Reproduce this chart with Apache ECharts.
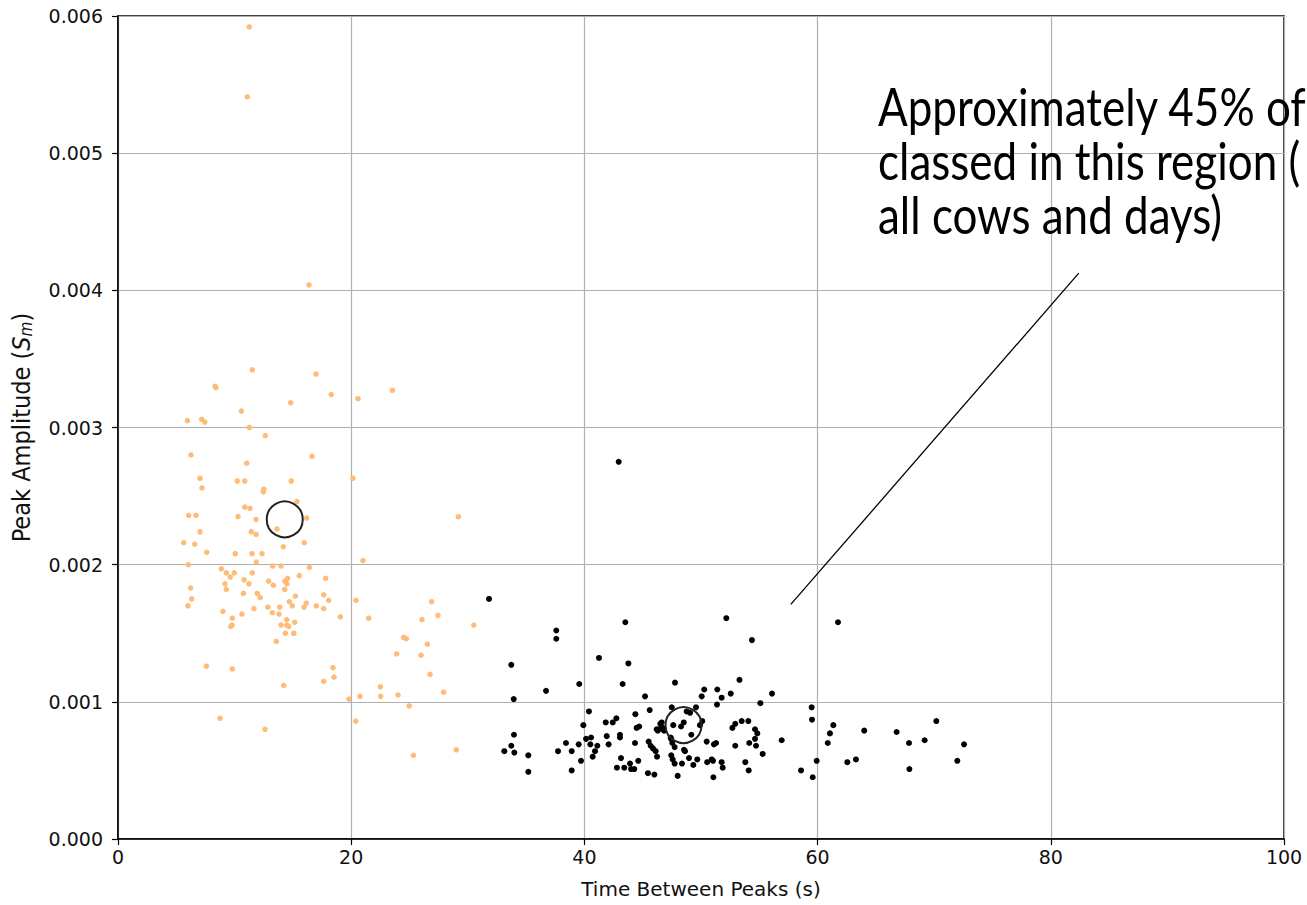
<!DOCTYPE html>
<html>
<head>
<meta charset="utf-8">
<script src="https://cdn.jsdelivr.net/npm/echarts@6/dist/echarts.min.js"></script>
<style>
html,body{margin:0;padding:0;background:#fff;}
#chart{width:1307px;height:905px;}
</style>
</head>
<body>
<div id="chart"></div>
<script>
// Axis tick values
const xTicks = [0, 20, 40, 60, 80, 100];
const yTicks = [0.000, 0.001, 0.002, 0.003, 0.004, 0.005, 0.006];

// Cluster 1 (orange): [time between peaks (s), peak amplitude]
const orangePoints = [
[11.26,0.00592],[11.09,0.00541],[16.38,0.00404],
[11.52,0.00342],[16.98,0.00339],[8.32,0.00330],[8.40,0.00329],[18.29,0.00324],[14.81,0.00318],[20.58,0.00321],[23.53,0.00327],[10.58,0.00312],[5.95,0.00305],[7.18,0.00306],[7.44,0.00304],[11.26,0.00300],[12.63,0.00294],[6.26,0.00280],[16.64,0.00279],[11.04,0.00274],[7.03,0.00263],[7.20,0.00256],[10.23,0.00261],[10.87,0.00261],[14.86,0.00261],[12.50,0.00255],[12.46,0.00253],[20.15,0.00263],[15.35,0.00246],[10.87,0.00242],[11.32,0.00241],[6.06,0.00236],[6.69,0.00236],[10.29,0.00235],[11.84,0.00233],[16.18,0.00234],[13.64,0.00226],[11.43,0.00224],[11.84,0.00222],[7.03,0.00224],[5.63,0.00216],[6.58,0.00215],[14.18,0.00213],[15.98,0.00216],[29.19,0.00235],
[7.61,0.00209],[10.06,0.00208],[11.49,0.00208],[12.35,0.00208],[11.86,0.00202],
[6.03,0.00200],[13.27,0.00199],[13.98,0.00199],[16.41,0.00198],[21.01,0.00203],[8.86,0.00197],[9.29,0.00194],[9.63,0.00191],[9.97,0.00194],[11.52,0.00194],[15.55,0.00192],[17.81,0.00190],[9.18,0.00186],[9.29,0.00182],[10.81,0.00189],[11.23,0.00186],[12.92,0.00188],[13.32,0.00185],[14.32,0.00188],[14.55,0.00190],[14.49,0.00186],[14.30,0.00182],[6.23,0.00183],[6.32,0.00175],[6.00,0.00170],[10.75,0.00179],[11.95,0.00179],[12.20,0.00176],[15.21,0.00177],[17.64,0.00178],[18.07,0.00174],[14.69,0.00173],[14.95,0.00170],[16.15,0.00172],[15.95,0.00169],[17.01,0.00170],[17.64,0.00168],[11.66,0.00168],[12.84,0.00169],[13.23,0.00165],[13.81,0.00164],[13.87,0.00169],[9.00,0.00166],[10.63,0.00164],[9.80,0.00161],[9.78,0.00156],[9.67,0.00155],[14.47,0.00160],[15.15,0.00158],[13.98,0.00156],[14.47,0.00156],[14.64,0.00155],[14.35,0.00150],[15.07,0.00150],[13.58,0.00144],
[19.07,0.00162],[20.41,0.00174],[21.50,0.00161],[26.90,0.00173],[27.44,0.00163],[26.07,0.00160],[30.51,0.00156],[24.50,0.00147],[24.73,0.00146],[26.53,0.00142],[23.90,0.00135],[25.99,0.00134],[26.76,0.00120],[7.58,0.00126],[9.80,0.00124],[18.44,0.00125],[18.52,0.00118],[17.64,0.00115],[14.21,0.00112],[22.50,0.00111],[22.53,0.00104],[20.75,0.00104],[24.01,0.00105],[27.93,0.00107],[19.81,0.00102],[24.98,0.00097],[8.75,0.00088],[12.61,0.00080],[20.39,0.00086],[29.01,0.00065],[25.33,0.00061]
];

// Cluster 2 (black)
const blackPoints = [
[42.94,0.00275],[31.82,0.00175],[37.59,0.00152],[37.59,0.00146],[43.51,0.00158],[52.17,0.00161],[61.75,0.00158],[54.37,0.00145],[41.25,0.00132],[43.77,0.00128],[33.73,0.00127],[39.56,0.00113],[43.28,0.00113],[36.71,0.00108],[47.77,0.00114],[53.30,0.00116],[56.09,0.00106],[33.94,0.00102],[45.20,0.00104],[50.28,0.00109],[50.06,0.00104],[51.40,0.00109],[51.77,0.00103],[52.55,0.00106],[51.37,0.00098],[55.09,0.00099],[59.49,0.00096],[59.52,0.00087],
[47.49,0.00096],[49.57,0.00096],[40.39,0.00093],[45.60,0.00094],[44.37,0.00091],[48.77,0.00093],[49.06,0.00092],[41.83,0.00085],[42.43,0.00085],[42.74,0.00088],[39.91,0.00083],[44.48,0.00081],[44.70,0.00082],[46.51,0.00084],[46.29,0.00079],[46.71,0.00081],[46.63,0.00085],[46.40,0.00080],[46.83,0.00079],[46.20,0.00080],[47.62,0.00083],[48.29,0.00082],[48.52,0.00085],[49.17,0.00076],[50.11,0.00086],[49.91,0.00083],[52.69,0.00081],[52.94,0.00084],[53.49,0.00086],[54.06,0.00086],[54.63,0.00080],[54.83,0.00077],[54.63,0.00073],[54.14,0.00070],[56.92,0.00072],[61.35,0.00083],[61.06,0.00077],[60.87,0.00070],[64.00,0.00079],[66.78,0.00078],[67.84,0.00070],[69.18,0.00072],[70.18,0.00086],[72.56,0.00069],[71.98,0.00057],[67.87,0.00051],[62.55,0.00056],[63.29,0.00058],[59.92,0.00057],[58.58,0.00050],[59.58,0.00045],
[33.96,0.00076],[43.05,0.00076],[43.05,0.00074],[41.91,0.00075],[47.40,0.00074],[47.43,0.00073],[47.54,0.00070],[47.74,0.00067],[48.54,0.00065],[48.63,0.00064],
[44.34,0.00070],[45.51,0.00071],[45.68,0.00068],[45.88,0.00066],[46.11,0.00064],[46.23,0.00060],[38.42,0.00070],[39.51,0.00069],[40.14,0.00073],[40.57,0.00074],[40.51,0.00069],[41.11,0.00068],[40.91,0.00064],[40.71,0.00060],[42.08,0.00069],[33.73,0.00068],[33.13,0.00064],[33.99,0.00063],[35.19,0.00061],[37.74,0.00064],[38.91,0.00064],[39.71,0.00057],[43.14,0.00059],[44.62,0.00057],[43.91,0.00055],[42.79,0.00052],[43.42,0.00052],[44.00,0.00051],[44.28,0.00051],[45.45,0.00048],[46.00,0.00047],[35.19,0.00049],[38.91,0.00050],
[47.45,0.00061],[47.57,0.00058],[47.74,0.00055],[48.37,0.00055],[48.97,0.00059],[49.34,0.00054],[49.68,0.00058],[50.49,0.00071],[51.11,0.00069],[51.29,0.00070],[52.94,0.00068],[54.72,0.00068],[55.29,0.00062],[50.53,0.00056],[51.03,0.00057],[51.77,0.00056],[51.86,0.00052],[50.92,0.00058],[53.80,0.00056],[54.09,0.00050],[48.00,0.00046],[51.06,0.00045]
];

// Cluster centroids
const centroids = [[14.3,0.00233],[48.5,0.00083]];

// Annotation pointer line (data coordinates)
const pointerLine = [[57.7,0.00171],[82.4,0.004125]];
const annotationLines = ["Approximately 45% of", "classed in this region (", "all cows and days)"];

const chart = echarts.init(document.getElementById('chart'), null, {renderer:'svg'});
const tickFont = {fontFamily:'DejaVu Sans', fontSize:19, color:'#111'};
const narrow = "'Liberation Sans Narrow', 'DejaVu Sans Condensed', 'DejaVu Sans'";
chart.setOption({
  animation:false,
  backgroundColor:'#fff',
  grid:{left:118, right:23, top:16, bottom:66, show:true, borderColor:'#000', borderWidth:1.5},
  xAxis:{
    type:'value', min:xTicks[0], max:xTicks[xTicks.length-1], interval:20,
    name:'Time Between Peaks (s)', nameLocation:'middle', nameGap:40,
    nameTextStyle:{fontFamily:'DejaVu Sans', fontSize:20, color:'#111'},
    axisLine:{show:true, onZero:false, lineStyle:{color:'#000', width:1.5}},
    axisTick:{show:true, length:6, lineStyle:{color:'#000', width:1.2}},
    axisLabel:Object.assign({margin:8, formatter:v=>String(v)}, tickFont),
    splitLine:{show:true, lineStyle:{color:'#b0b0b0', width:1.2}}
  },
  yAxis:{
    type:'value', min:yTicks[0], max:yTicks[yTicks.length-1], interval:0.001,
    name:'{a|Peak Amplitude (}{s|S}{m|m}{a|)}', nameLocation:'middle', nameGap:84,
    nameTextStyle:{rich:{
      a:{fontFamily:narrow, fontSize:25, color:'#111'},
      s:{fontFamily:narrow, fontSize:25, fontStyle:'italic', color:'#111'},
      m:{fontFamily:narrow, fontSize:17, fontStyle:'italic', color:'#111', verticalAlign:'bottom', padding:[9,0,0,0]}
    }},
    axisLine:{show:true, onZero:false, lineStyle:{color:'#000', width:1.5}},
    axisTick:{show:true, length:6, lineStyle:{color:'#000', width:1.2}},
    axisLabel:Object.assign({margin:15, formatter:v=>v.toFixed(3)}, tickFont),
    splitLine:{show:true, lineStyle:{color:'#b0b0b0', width:1.2}}
  },
  series:[
    {type:'scatter', data:orangePoints, symbolSize:5.5, itemStyle:{color:'#ffbb78', opacity:1}, z:3},
    {type:'scatter', data:blackPoints, symbolSize:6, itemStyle:{color:'#000', opacity:1}, z:4},
    {type:'scatter', data:centroids, symbolSize:36,
      itemStyle:{color:'rgba(0,0,0,0)', borderColor:'#222', borderWidth:2, opacity:1}, z:5},
    {type:'line', data:pointerLine, symbol:'none', lineStyle:{color:'#000', width:1.3}, z:6}
  ],
  graphic:[{
    type:'text', left:878, top:78, scaleY:1.2, z:100,
    style:{text:annotationLines.join('\n'), fill:'#000', font:'44px Lato', lineHeight:45}
  }]
});
</script>
</body>
</html>
